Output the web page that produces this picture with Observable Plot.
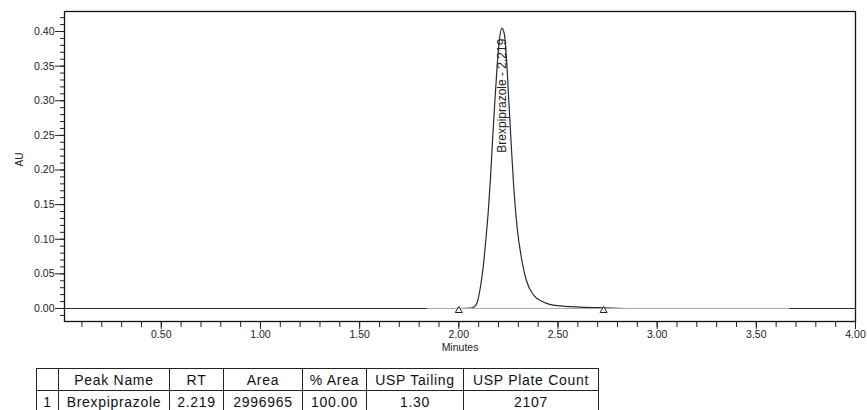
<!DOCTYPE html>
<html>
<head>
<meta charset="utf-8">
<script src="https://cdn.jsdelivr.net/npm/d3@7"></script>
<script src="https://cdn.jsdelivr.net/npm/@observablehq/plot@0.6"></script>
<style>
  html, body { margin: 0; padding: 0; background: #fff; }
  #wrap { position: relative; width: 867px; height: 410px; overflow: hidden; }
  #chart { position: absolute; left: 0; top: 0; }
  #tbl { position: absolute; left: 36px; top: 368px; }
  table { border-collapse: collapse; font-family: "Liberation Sans", Arial, sans-serif; font-size: 14px; letter-spacing: 0.7px; color: #111; }
  td, th { border: 1.6px solid #222; padding: 0; height: 21px; text-align: center; font-weight: normal; white-space: nowrap; }
</style>
</head>
<body>
<div id="wrap">
  <div id="chart"></div>
  <div id="tbl"></div>
</div>
<script>
// ---- Chromatogram trace (minutes, AU) ----
const traceTime = [0.012, 1.0, 2.0, 2.06, 2.076, 2.093, 2.109, 2.123, 2.136, 2.150, 2.160, 2.170, 2.182, 2.194, 2.205, 2.217,
                   2.229, 2.241, 2.252, 2.264, 2.277, 2.294, 2.315, 2.341, 2.378, 2.429, 2.496, 2.614, 2.73, 2.9, 3.5, 4.0];
const traceAU   = [0, 0, 0, 0.0005, 0.002, 0.009, 0.031, 0.060, 0.098, 0.146, 0.190, 0.243, 0.300, 0.353, 0.389, 0.405,
                   0.397, 0.358, 0.300, 0.238, 0.175, 0.117, 0.074, 0.040, 0.019, 0.009, 0.004, 0.002, 0.001, 0, 0, 0];

// integration baseline segment and its start/end markers
const baselineStart = 1.84;
const baselineEnd = 3.67;
const markerTimes = [2.00, 2.73];

// peak table
const tableHeaders = ["", "Peak Name", "RT", "Area", "% Area", "USP Tailing", "USP Plate Count"];
const peakIndex = [1];
const peakNames = ["Brexpiprazole"];
const peakRT = [2.219];
const peakArea = [2996965];
const peakPctArea = ["100.00"];
const peakTailing = ["1.30"];
const peakPlates = [2107];
const peakLabelAU = [0.225]; // lower end of the rotated peak label

// axis ticks
const xMajorTicks = [0.50, 1.00, 1.50, 2.00, 2.50, 3.00, 3.50, 4.00];
const yMajorTicks = [0.00, 0.05, 0.10, 0.15, 0.20, 0.25, 0.30, 0.35, 0.40];
const xMinorTicks = d3.range(1, 41).map(i => i / 10);
const yMinorTicks = d3.range(-1, 43).map(i => i / 100);

const trace = traceTime.map((t, i) => ({t, au: traceAU[i]}));
const peaks = peakNames.map((n, i) => ({label: `${n} - ${peakRT[i].toFixed(3)}`, t: peakRT[i], au: peakLabelAU[i]}));

const chart = Plot.plot({
  width: 867,
  height: 362,
  marginLeft: 64,
  marginRight: 12,
  marginTop: 11,
  marginBottom: 41,
  style: {fontFamily: "'Liberation Sans', Arial, sans-serif", fontSize: "10.5px", color: "#222", background: "white"},
  x: {domain: [0.012, 4.0]},
  y: {domain: [-0.0188, 0.4289]},
  marks: [
    Plot.axisY({ticks: yMinorTicks, tickSize: 4, text: null, label: null, stroke: "#222"}),
    Plot.axisY({ticks: yMajorTicks, tickSize: 9, tickPadding: 1, tickFormat: ".2f", label: null, stroke: "#222"}),
    Plot.axisX({ticks: xMinorTicks, tickSize: 6, text: null, label: null, stroke: "#222"}),
    Plot.axisX({ticks: xMajorTicks, tickSize: 8, tickPadding: 1, tickFormat: ".2f", label: null, stroke: "#222"}),
    Plot.line(trace, {x: "t", y: "au", stroke: "#2a2a2a", strokeWidth: 1.2, curve: "monotone-x"}),
    Plot.ruleY([{y: 0, x1: baselineStart, x2: baselineEnd}], {y: "y", x1: "x1", x2: "x2", stroke: "#aaa", strokeWidth: 1.2}),
    Plot.dot(markerTimes.map(t => ({t, au: 0})), {x: "t", y: "au", symbol: "triangle", r: 2.6, stroke: "#222", strokeWidth: 1, fill: "white", dy: 2}),
    Plot.text(peaks, {x: "t", y: "au", text: "label", rotate: -90, textAnchor: "start", fontSize: 12, fill: "#222"}),
    Plot.text(["AU"], {frameAnchor: "left", dx: -45, rotate: -90, fontSize: 10, fill: "#222"}),
    Plot.text(["Minutes"], {frameAnchor: "bottom", dy: 29, fontSize: 10.5, fill: "#222"}),
    Plot.frame({stroke: "#111", strokeWidth: 1.3})
  ]
});
document.getElementById("chart").appendChild(chart);

// peak table
const colWidths = [21, 110, 53, 78, 63, 96, 134];
const table = document.createElement("table");
const hr = table.insertRow();
tableHeaders.forEach((h, i) => {
  const c = document.createElement("th");
  c.textContent = h;
  c.style.width = colWidths[i] + "px";
  c.style.minWidth = colWidths[i] + "px";
  c.style.maxWidth = colWidths[i] + "px";
  hr.appendChild(c);
});
peakNames.forEach((n, i) => {
  const r = table.insertRow();
  [peakIndex[i], n, peakRT[i].toFixed(3), peakArea[i], peakPctArea[i], peakTailing[i], peakPlates[i]].forEach(v => {
    const c = r.insertCell();
    c.textContent = v;
  });
});
document.getElementById("tbl").appendChild(table);
</script>
</body>
</html>
